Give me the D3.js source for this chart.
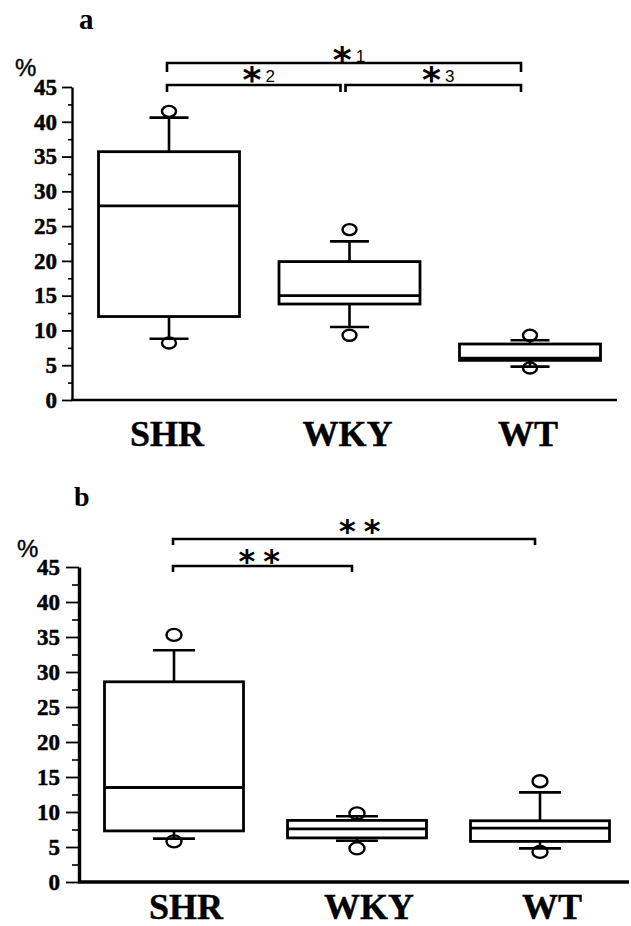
<!DOCTYPE html>
<html>
<head>
<meta charset="utf-8">
<script src="https://cdn.jsdelivr.net/npm/d3@7"></script>
<style>
  html, body { margin: 0; padding: 0; background: #fff; }
  svg { display: block; }
</style>
</head>
<body>
<svg id="chart" width="631" height="926"></svg>
<script>
// ---------- data ----------
const categories = ["SHR", "WKY", "WT"];
const yTickValues = [0, 5, 10, 15, 20, 25, 30, 35, 40, 45];

// panel a (box-plot statistics, %)
const aQ1 = [12.0, 13.8, 5.7];
const aMedian = [27.9, 15.0, 6.0];
const aQ3 = [35.7, 19.9, 8.05];
const aWhiskerLow = [8.8, 10.5, 4.8];
const aWhiskerHigh = [40.6, 22.8, 8.6];
const aOutlierLow = [8.2, 9.3, 4.6];
const aOutlierHigh = [41.5, 24.5, 9.3];
const aComparisons = [
  { from: "SHR", to: "WT", mark: "*", sub: "1", level: 0 },
  { from: "SHR", to: "WKY", mark: "*", sub: "2", level: 1 },
  { from: "WKY", to: "WT", mark: "*", sub: "3", level: 1 }
];

// panel b
const bQ1 = [7.3, 6.3, 5.8];
const bMedian = [13.5, 7.6, 7.7];
const bQ3 = [28.6, 8.8, 8.75];
const bWhiskerLow = [6.2, 5.9, 4.8];
const bWhiskerHigh = [33.1, 9.4, 12.8];
const bOutlierLow = [5.8, 4.8, 4.3];
const bOutlierHigh = [35.3, 9.8, 14.4];
const bComparisons = [
  { from: "SHR", to: "WT", mark: "* *", sub: "", level: 0 },
  { from: "SHR", to: "WKY", mark: "* *", sub: "", level: 1 }
];

// ---------- drawing ----------
const svg = d3.select("#chart");
const SERIF = "Liberation Serif";
const SANS = "Liberation Sans";
const STAR = "DejaVu Sans";

function drawPanel(cfg) {
  const g = svg.append("g");
  const x = d3.scalePoint().domain(categories).range(cfg.xRange);
  const y = d3.scaleLinear().domain([0, 45]).range(cfg.yRange);

  const rows = categories.map((c, i) => ({
    cat: c, q1: cfg.q1[i], med: cfg.med[i], q3: cfg.q3[i],
    wl: cfg.wl[i], wh: cfg.wh[i], ol: cfg.ol[i], oh: cfg.oh[i]
  }));

  // panel letter and % unit
  g.append("text").attr("x", cfg.letterPos[0]).attr("y", cfg.letterPos[1])
    .style("font-family", SERIF).style("font-weight", "bold").style("font-size", cfg.letterSize + "px")
    .text(cfg.letter);
  g.append("text").attr("x", cfg.pctPos[0]).attr("y", cfg.pctPos[1])
    .style("font-family", SANS).style("font-size", "24px")
    .attr("stroke", "#000").attr("stroke-width", 0.4)
    .text("%");

  // minor ticks
  const minor = d3.axisLeft(y).tickValues(d3.range(2.5, 45, 5)).tickSize(cfg.minorTick).tickFormat("");
  const gm = g.append("g").attr("transform", `translate(${cfg.axisX},0)`).call(minor);
  gm.select(".domain").remove();
  gm.selectAll("text").remove();
  gm.selectAll("line").attr("stroke", "#000").attr("stroke-width", 1.6);

  // major axis (ticks + domain), labels drawn separately
  const axis = d3.axisLeft(y).tickValues(yTickValues).tickSize(cfg.majorTick)
    .tickSizeOuter(0).tickFormat("");
  const ga = g.append("g").attr("transform", `translate(${cfg.axisX},0)`).call(axis);
  ga.selectAll("text").remove();
  ga.select(".domain").attr("stroke", "#000").attr("stroke-width", cfg.axisWidth);
  ga.selectAll(".tick line").attr("stroke", "#000").attr("stroke-width", 1.8);

  g.selectAll(".ylab").data(yTickValues).join("text")
    .attr("x", cfg.axisX - cfg.majorTick - cfg.tickPad)
    .attr("y", d => y(d))
    .attr("dy", "0.34em")
    .attr("text-anchor", "end")
    .attr("fill", "#000").attr("stroke", "#000").attr("stroke-width", 0.5)
    .style("font-family", SERIF).style("font-weight", "bold").style("font-size", "23px")
    .text(d => d);

  // x axis baseline
  g.append("line").attr("x1", cfg.axisX - 1).attr("x2", cfg.xAxisEnd)
    .attr("y1", y(0)).attr("y2", y(0)).attr("stroke", "#000").attr("stroke-width", cfg.axisWidth);

  // category labels
  g.selectAll(".xlab").data(categories).join("text")
    .attr("x", d => x(d) + cfg.labelDx).attr("y", cfg.labelY)
    .attr("text-anchor", "middle")
    .attr("stroke", "#000").attr("stroke-width", 0.4)
    .style("font-family", SERIF).style("font-weight", "bold").style("font-size", "36px")
    .text(d => d);

  const bw = cfg.boxWidth, cw = cfg.capWidth;
  const sw = 2.6;

  // outlier circles (drawn under whisker caps)
  const circ = g.append("g");
  rows.forEach(r => {
    [r.oh, r.ol].forEach(v => {
      circ.append("ellipse").attr("cx", x(r.cat)).attr("cy", y(v))
        .attr("rx", cfg.rx).attr("ry", cfg.ry)
        .attr("fill", "#fff").attr("stroke", "#000").attr("stroke-width", 2.4);
    });
  });

  // whiskers
  const wg = g.append("g").attr("stroke", "#000").attr("stroke-width", sw);
  rows.forEach(r => {
    wg.append("line").attr("x1", x(r.cat)).attr("x2", x(r.cat)).attr("y1", y(r.q3)).attr("y2", y(r.wh));
    wg.append("line").attr("x1", x(r.cat)).attr("x2", x(r.cat)).attr("y1", y(r.q1)).attr("y2", y(r.wl));
    wg.append("line").attr("x1", x(r.cat) - cw / 2).attr("x2", x(r.cat) + cw / 2).attr("y1", y(r.wh)).attr("y2", y(r.wh));
    wg.append("line").attr("x1", x(r.cat) - cw / 2).attr("x2", x(r.cat) + cw / 2).attr("y1", y(r.wl)).attr("y2", y(r.wl));
  });

  // boxes
  g.selectAll(".box").data(rows).join("rect")
    .attr("x", d => x(d.cat) - bw / 2).attr("width", bw)
    .attr("y", d => y(d.q3)).attr("height", d => y(d.q1) - y(d.q3))
    .attr("fill", "#fff").attr("stroke", "#000").attr("stroke-width", 2.8);
  g.selectAll(".med").data(rows).join("line")
    .attr("x1", d => x(d.cat) - bw / 2).attr("x2", d => x(d.cat) + bw / 2)
    .attr("y1", d => y(d.med)).attr("y2", d => y(d.med))
    .attr("stroke", "#000").attr("stroke-width", 2.8);

  // significance brackets
  cfg.comps.forEach(c => {
    const x1 = x(c.from) + cfg.brLeft + (c.from === "WKY" ? -2 : 0);
    const x2 = x(c.to) + cfg.brRight;
    const by = cfg.brY[c.level];
    const tick = cfg.brTick[c.level];
    g.append("path")
      .attr("d", `M${x1},${by + tick}V${by}H${x2}V${by + tick}`)
      .attr("fill", "none").attr("stroke", "#000").attr("stroke-width", 2.6);
    const t = g.append("text")
      .attr("x", (x1 + x2) / 2 + cfg.brLabelDx[c.level])
      .attr("y", by + cfg.brLabelDy[c.level])
      .attr("text-anchor", "middle");
    t.append("tspan")
      .style("font-family", STAR).style("font-weight", "bold")
      .style("font-size", cfg.starSize + "px").style("letter-spacing", cfg.starSpacing + "px")
      .attr("dy", cfg.starDrop).text(c.mark);
    if (c.sub) {
      t.append("tspan").style("font-family", SANS).style("font-size", "17px")
        .attr("dx", 4).attr("dy", -cfg.starDrop).text(c.sub);
    }
  });
}

drawPanel({
  letter: "a", letterPos: [79, 29], letterSize: 29, pctPos: [15, 76],
  xRange: [169, 530], yRange: [400, 87], axisX: 72, xAxisEnd: 617,
  majorTick: 10, minorTick: 4, tickPad: 5, axisWidth: 2.4,
  labelDx: -2, labelY: 446, boxWidth: 141, capWidth: 39, rx: 7, ry: 5.5,
  q1: aQ1, med: aMedian, q3: aQ3, wl: aWhiskerLow, wh: aWhiskerHigh, ol: aOutlierLow, oh: aOutlierHigh,
  comps: aComparisons, brLeft: -2, brRight: -9, brY: [63, 85], brTick: [9, 7],
  brLabelDx: [5, 5], brLabelDy: [-1, -3], starSize: 36, starSpacing: 0, starDrop: 10
});

drawPanel({
  letter: "b", letterPos: [74, 506], letterSize: 28, pctPos: [17, 557],
  xRange: [174, 540], yRange: [882, 567], axisX: 79, xAxisEnd: 629,
  majorTick: 13, minorTick: 7, tickPad: 6, axisWidth: 3.4,
  labelDx: 12, labelY: 919, boxWidth: 139, capWidth: 42, rx: 7.5, ry: 6,
  q1: bQ1, med: bMedian, q3: bQ3, wl: bWhiskerLow, wh: bWhiskerHigh, ol: bOutlierLow, oh: bOutlierHigh,
  comps: bComparisons, brLeft: -1, brRight: -5, brY: [539, 566], brTick: [6, 6],
  brLabelDx: [5, -4], brLabelDy: [-7, -4], starSize: 32, starSpacing: -1.5, starDrop: 10
});
</script>
</body>
</html>
